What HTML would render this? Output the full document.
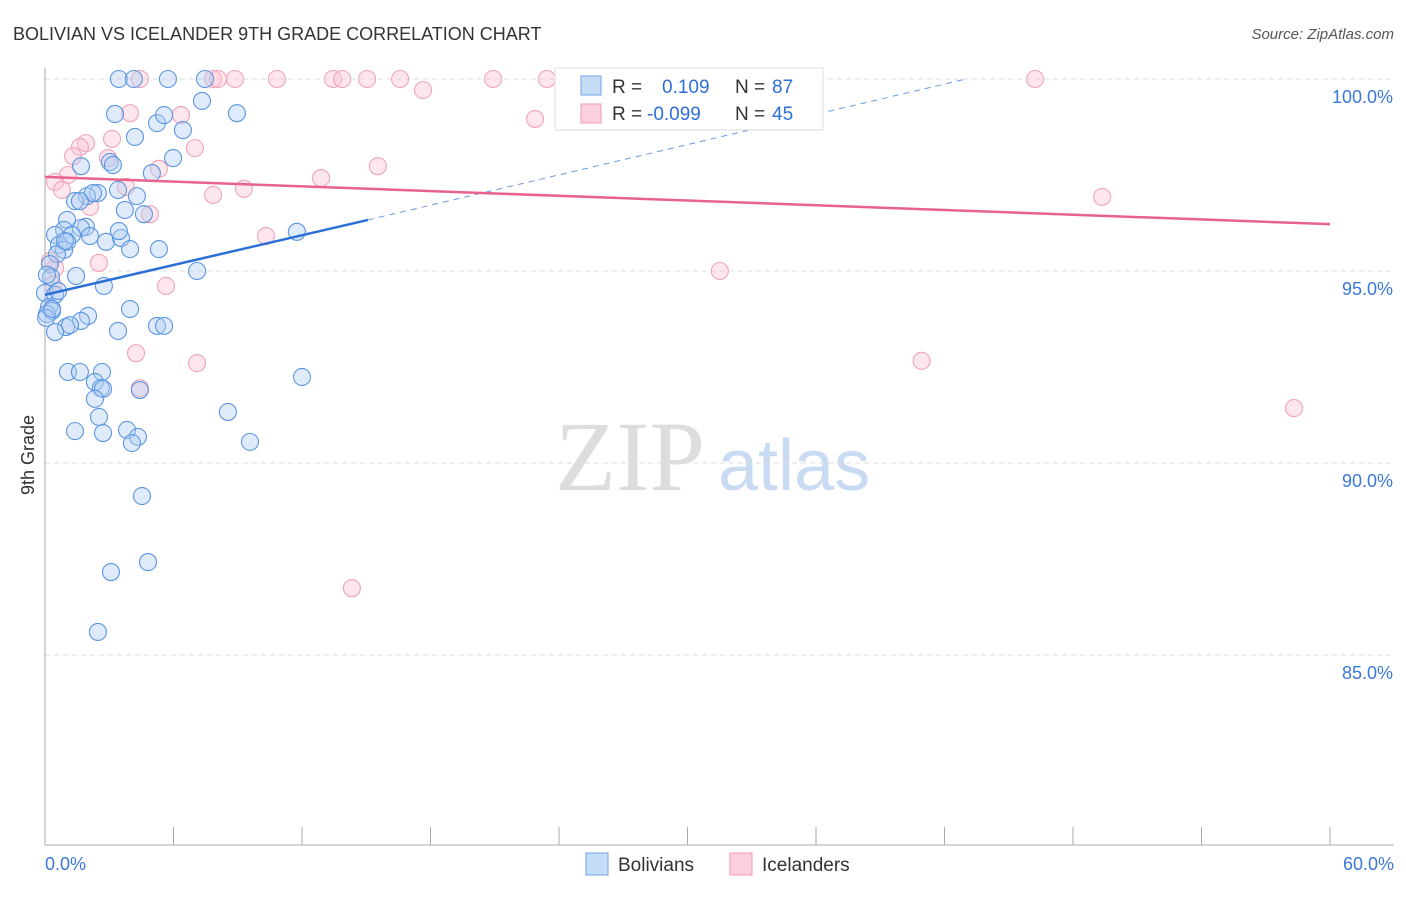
<!DOCTYPE html>
<html><head><meta charset="utf-8"><style>
body{margin:0;background:#fff;font-family:"Liberation Sans",sans-serif;}
</style></head><body>
<svg width="1406" height="892" id="chart">
<text x="13" y="40" font-size="18" fill="#333">BOLIVIAN VS ICELANDER 9TH GRADE CORRELATION CHART</text>
<text x="1394" y="39" font-size="15" fill="#555" font-style="italic" text-anchor="end">Source: ZipAtlas.com</text>
<text x="555" y="490" font-size="100" fill="#ddd" font-family="Liberation Serif">ZIP</text>
<text x="718" y="490" font-size="72" fill="#c9dbf3">atlas</text>
<text transform="translate(34,455) rotate(-90)" font-size="18" fill="#333" text-anchor="middle">9th Grade</text>
<g id="grid"></g><g id="axes"></g><g id="pts"></g><g id="lines"></g>
<g>
<rect x="555" y="68" width="268" height="62" fill="#fff" stroke="#ddd"/>
<rect x="581" y="76" width="20" height="19" fill="#c5dcf7" stroke="#6fa3e8"/>
<rect x="581" y="104" width="20" height="19" fill="#fbd0dc" stroke="#f19ab3"/>
<text x="612" y="93" font-size="19" fill="#333">R = <tspan x="662" fill="#2f6fd6">0.109</tspan><tspan x="735" fill="#333">N = </tspan><tspan x="772" fill="#2f6fd6">87</tspan></text>
<text x="612" y="120" font-size="19" fill="#333">R = <tspan x="647" fill="#2f6fd6">-0.099</tspan><tspan x="735" fill="#333">N = </tspan><tspan x="772" fill="#2f6fd6">45</tspan></text>
</g>
<g>
<rect x="586" y="853" width="22" height="22" fill="#c5dcf7" stroke="#6fa3e8"/>
<text x="618" y="871" font-size="19" fill="#333">Bolivians</text>
<rect x="730" y="853" width="22" height="22" fill="#fbd0dc" stroke="#f19ab3"/>
<text x="762" y="871" font-size="19" fill="#333">Icelanders</text>
</g>
</svg>
<script>
const xTicks=[0,6,12,18,24,30,36,42,48,54,60];
const yTicks=[100,95,90,85];
const yTickLabels=["100.0%","95.0%","90.0%","85.0%"];
const blueX=[3.45,4.15,5.74,7.47,3.27,7.33,8.96,5.23,5.56,6.44,4.2,5.98,3.03,1.68,3.17,4.99,3.41,4.29,2.47,1.96,2.24,1.4,1.63,3.73,4.62,1.03,11.76,0.89,1.91,1.68,2.1,0.47,1.26,0.65,1.03,2.85,3.55,3.45,3.97,5.32,0.89,0.56,0.23,7.1,1.45,0.28,2.75,0,0.47,0.61,3.97,0.19,0.33,0.09,0.05,2.01,1.68,0.98,1.17,0.47,3.41,5.23,5.56,1.07,1.63,2.66,2.33,2.61,2.71,2.33,4.43,8.54,12,1.4,2.71,3.83,4.34,4.06,9.57,2.52,4.53,3.08,4.81,2.47,0.33,0.09,0.93];
const blueY=[100,100,100,100,99.09,99.43,99.11,98.85,99.06,98.67,98.49,97.94,97.84,97.73,97.76,97.55,97.11,96.95,97.03,96.95,97.03,96.82,96.82,96.59,96.48,96.33,96.02,96.07,96.15,96.12,95.91,95.94,95.94,95.68,95.76,95.76,95.86,96.04,95.57,95.57,95.55,95.44,95.18,95,94.87,94.84,94.61,94.43,94.38,94.48,94.01,94.06,93.96,93.88,93.78,93.83,93.7,93.54,93.59,93.41,93.44,93.57,93.57,92.37,92.37,92.37,92.11,91.95,91.93,91.67,91.9,91.33,92.24,90.83,90.78,90.86,90.68,90.52,90.55,91.2,89.14,87.16,87.42,85.6,94.01,94.9,95.78];
const pinkX=[4.43,7.85,8.08,8.87,10.83,13.45,13.87,15.04,16.58,20.92,23.44,27.41,46.23,17.65,3.97,6.35,22.88,1.91,1.63,1.31,3.13,7.0,2.94,15.54,5.32,1.07,0.47,0.79,3.78,12.89,9.29,7.85,49.36,2.1,4.9,10.32,2.52,0.47,31.51,0.37,5.65,4.25,7.1,40.93,4.43,58.32,14.33,0.23];
const pinkY=[100,100,100,100,100,100,100,100,100,100,100,100,100,99.71,99.11,99.06,98.96,98.33,98.23,97.99,98.44,98.2,97.94,97.73,97.66,97.5,97.32,97.11,97.19,97.42,97.14,96.98,96.93,96.67,96.48,95.91,95.21,95.08,95,94.64,94.61,92.86,92.6,92.66,91.95,91.43,86.74,95.26];
const blueLine=[[0,94.38],[15.08,96.33]], blueDash=[[15.08,96.33],[43,100]];
const pinkLine=[[0,97.45],[60,96.22]];
const NS="http://www.w3.org/2000/svg";
const X=v=>45+v/60*1285, Y=v=>79+(100-v)*38.4;
function mk(tag,attrs,parent){const e=document.createElementNS(NS,tag);for(const k in attrs)e.setAttribute(k,attrs[k]);document.getElementById(parent).appendChild(e);return e;}
yTicks.forEach((t,i)=>{
 const g=mk('line',{x1:45,x2:1394,y1:Y(t),y2:Y(t),stroke:'#ddd','stroke-dasharray':'5,4'},'grid');
 
 
 const tx=mk('text',{x:1393,y:Y(t)+24,'font-size':18,fill:'#3b78d8','text-anchor':'end'},'axes');
 tx.textContent=yTickLabels[i];
 
 
});
let a=mk('line',{x1:45,x2:45,y1:68,y2:845,stroke:'#aaa'},'axes');


a=mk('line',{x1:45,x2:1394,y1:845,y2:845,stroke:'#aaa'},'axes');


xTicks.forEach(t=>{const l=mk('line',{x1:X(t),x2:X(t),y1:827,y2:845,stroke:'#aaa'},'axes');
 
 });
[[0,"0.0%",'start',45],[60,"60.0%",'end',1394]].forEach(([v,s,an,x])=>{const t=mk('text',{x:x,y:870,'font-size':18,fill:'#3b78d8','text-anchor':an},'axes');t.textContent=s;
 
 });
function dots(xs,ys,fill,stroke,name){xs.forEach((x,i)=>{const c=mk('circle',{cx:X(x),cy:Y(ys[i]),r:8.5,fill:fill,'fill-opacity':0.4,stroke:stroke,'stroke-width':1.1},'pts');
 
 });}
dots(pinkX,pinkY,'#f9c4d3','#f0a3bb','icelander-point');
dots(blueX,blueY,'#aecdf2','#5b96e2','bolivian-point');
function ln(p,col,w,dash,name){const l=mk('line',{x1:X(p[0][0]),y1:Y(p[0][1]),x2:X(p[1][0]),y2:Y(p[1][1]),stroke:col,'stroke-width':w},'lines');if(dash)l.setAttribute('stroke-dasharray',dash);
 
 }
ln(blueLine,'#2c6fd6',2.5,null,'bolivian-trend-line');
ln(blueDash,'#6b9be0',1,'6,5','bolivian-trend-extension');
ln(pinkLine,'#e8628d',2.5,null,'icelander-trend-line');
</script>
</body></html>
